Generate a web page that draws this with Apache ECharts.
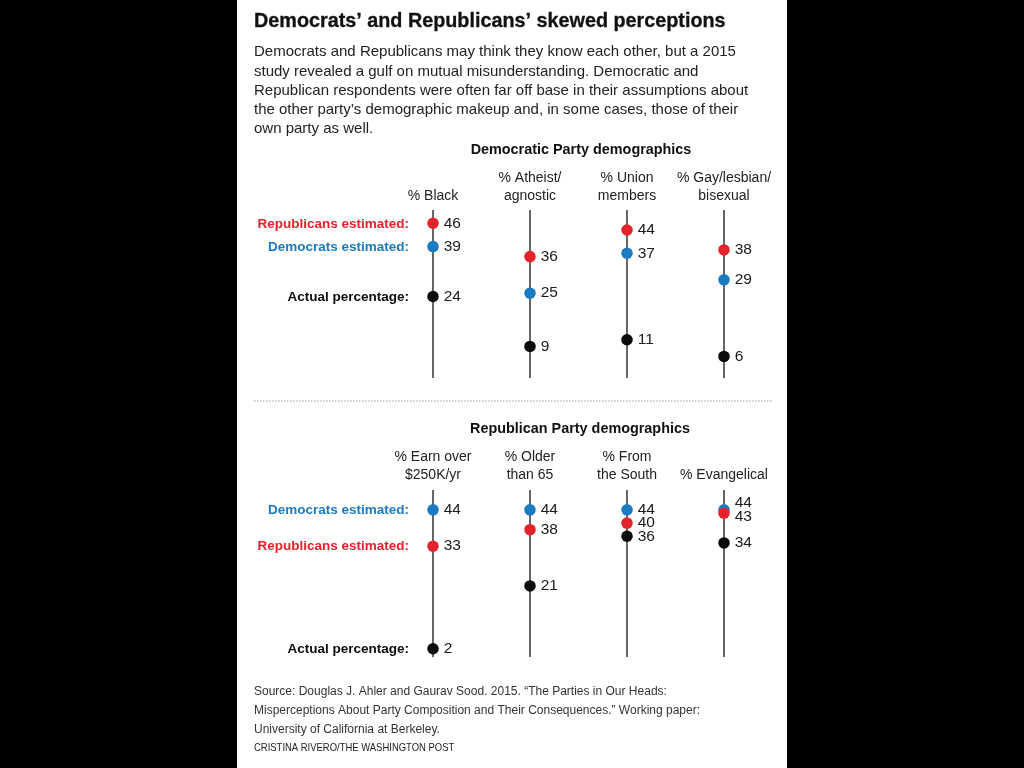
<!DOCTYPE html>
<html>
<head>
<meta charset="utf-8">
<script src="https://cdn.jsdelivr.net/npm/echarts@6/dist/echarts.min.js"></script>
<style>
  html, body { margin: 0; padding: 0; background: #000; }
  #chart { width: 1024px; height: 768px; }
</style>
</head>
<body>
<div id="chart"></div>
<script>
// ---- Data ----
const topCategories = ['% Black', '% Atheist/\nagnostic', '% Union\nmembers', '% Gay/lesbian/\nbisexual'];
const topRepEst = [46, 36, 44, 38];
const topDemEst = [39, 25, 37, 29];
const topActual = [24, 9, 11, 6];

const bottomCategories = ['% Earn over\n$250K/yr', '% Older\nthan 65', '% From\nthe South', '% Evangelical'];
const bottomDemEst = [44, 44, 44, 44];
const bottomRepEst = [33, 38, 40, 43];
const bottomActual = [2, 21, 36, 34];

const titleText = 'Democrats’ and Republicans’ skewed perceptions';
const subtitleText = 'Democrats and Republicans may think they know each other, but a 2015\nstudy revealed a gulf on mutual misunderstanding. Democratic and\nRepublican respondents were often far off base in their assumptions about\nthe other party’s demographic makeup and, in some cases, those of their\nown party as well.';
const topSectionTitle = 'Democratic Party demographics';
const bottomSectionTitle = 'Republican Party demographics';
const sourceText = 'Source: Douglas J. Ahler and Gaurav Sood. 2015. “The Parties in Our Heads:\nMisperceptions About Party Composition and Their Consequences.” Working paper:\nUniversity of California at Berkeley.';
const creditText = 'CRISTINA RIVERO/THE WASHINGTON POST';

// ---- Styles ----
const RED = '#e2232b';
const BLUE = '#1a7bc2';
const BLACK = '#0c0c0c';
const FONT = '"Liberation Sans", Arial, sans-serif';

// label nudges for crowded points (style only): key = panel|series|index
const labelNudge = {
  'bottom|dem|3': [0, -7],
  'bottom|rep|3': [0, 4]
};

function pts(values, panel, key) {
  return values.map((v, i) => {
    const item = { value: [i, v] };
    const n = labelNudge[panel + '|' + key + '|' + i];
    if (n) item.label = { offset: n };
    return item;
  });
}

function dotSeries(name, values, color, idx, panel, key, z) {
  return {
    name: name,
    type: 'scatter',
    xAxisIndex: idx,
    yAxisIndex: idx,
    symbolSize: 11.5,
    z: z,
    itemStyle: { color: color, opacity: 1 },
    label: {
      show: true,
      position: 'right',
      distance: 5,
      formatter: p => String(p.value[1]),
      fontFamily: FONT,
      fontSize: 15.5,
      color: '#1a1a1a'
    },
    data: pts(values, panel, key)
  };
}

function xAxisCfg(cats, idx, margin) {
  return {
    type: 'category',
    gridIndex: idx,
    data: cats,
    position: 'top',
    boundaryGap: false,
    axisLine: { show: false },
    axisTick: { show: false },
    axisLabel: {
      interval: 0,
      margin: margin,
      fontFamily: FONT,
      fontSize: 14,
      color: '#222',
      lineHeight: 18,
      align: 'center'
    },
    splitLine: { show: true, interval: 0, lineStyle: { color: '#333', width: 1.5 } }
  };
}

function yAxisCfg(idx) {
  return {
    type: 'value',
    gridIndex: idx,
    min: -0.5,
    max: 50,
    show: false,
    splitLine: { show: false }
  };
}

const staticGraphics = [
  { type: 'rect', z: -10, shape: { x: 237, y: 0, width: 550, height: 768 }, style: { fill: '#fff' } },
  { type: 'text', x: 254, y: 22, style: { text: titleText, fontFamily: FONT, fontWeight: 'bold', fontSize: 19.8, fill: '#111', textVerticalAlign: 'middle', stroke: '#111', lineWidth: 0.3 } },
  { type: 'text', x: 254, y: 42.5, style: { text: subtitleText, fontFamily: FONT, fontSize: 15, lineHeight: 19.3, fill: '#222', textVerticalAlign: 'top' } },
  { type: 'text', x: 581, y: 150, style: { text: topSectionTitle, fontFamily: FONT, fontWeight: 'bold', fontSize: 14.4, fill: '#111', textAlign: 'center', textVerticalAlign: 'middle' } },
  { type: 'line', shape: { x1: 254, y1: 401, x2: 773, y2: 401 }, style: { stroke: '#999', lineWidth: 1, lineDash: [1.5, 1.5] } },
  { type: 'text', x: 580, y: 429, style: { text: bottomSectionTitle, fontFamily: FONT, fontWeight: 'bold', fontSize: 14.4, fill: '#111', textAlign: 'center', textVerticalAlign: 'middle' } },
  { type: 'text', x: 254, y: 682.5, style: { text: sourceText, fontFamily: FONT, fontSize: 12, lineHeight: 19, fill: '#333', textVerticalAlign: 'top' } },
  { type: 'text', x: 254, y: 748, scaleX: 0.86, style: { text: creditText, fontFamily: FONT, fontSize: 11, fill: '#222', textVerticalAlign: 'middle' } }
];

const chart = echarts.init(document.getElementById('chart'), null, { renderer: 'canvas' });
chart.setOption({
  backgroundColor: '#000',
  animation: false,
  grid: [
    { left: 433, right: 300, top: 210, height: 168 },
    { left: 433, right: 300, top: 490, height: 167 }
  ],
  xAxis: [xAxisCfg(topCategories, 0, 5), xAxisCfg(bottomCategories, 1, 6)],
  yAxis: [yAxisCfg(0), yAxisCfg(1)],
  graphic: staticGraphics,
  series: [
    dotSeries('Democrats estimated', topDemEst, BLUE, 0, 'top', 'dem', 2),
    dotSeries('Republicans estimated', topRepEst, RED, 0, 'top', 'rep', 3),
    dotSeries('Actual percentage', topActual, BLACK, 0, 'top', 'act', 4),
    dotSeries('Democrats estimated', bottomDemEst, BLUE, 1, 'bottom', 'dem', 2),
    dotSeries('Republicans estimated', bottomRepEst, RED, 1, 'bottom', 'rep', 3),
    dotSeries('Actual percentage', bottomActual, BLACK, 1, 'bottom', 'act', 4)
  ]
});

// Row-name labels placed beside the first column's points via the chart's own scales
function rowLabel(text, value, color, gridIndex) {
  const p = chart.convertToPixel({ gridIndex: gridIndex }, [0, value]);
  return {
    type: 'text', x: p[0] - 24, y: p[1] + 0.5,
    style: { text: text, fontFamily: FONT, fontWeight: 'bold', fontSize: 13.5, fill: color, textAlign: 'right', textVerticalAlign: 'middle' }
  };
}
chart.setOption({
  graphic: staticGraphics.concat([
    rowLabel('Republicans estimated:', topRepEst[0], RED, 0),
    rowLabel('Democrats estimated:', topDemEst[0], BLUE, 0),
    rowLabel('Actual percentage:', topActual[0], BLACK, 0),
    rowLabel('Democrats estimated:', bottomDemEst[0], BLUE, 1),
    rowLabel('Republicans estimated:', bottomRepEst[0], RED, 1),
    rowLabel('Actual percentage:', bottomActual[0], BLACK, 1)
  ])
}, { replaceMerge: ['graphic'] });
</script>
</body>
</html>
